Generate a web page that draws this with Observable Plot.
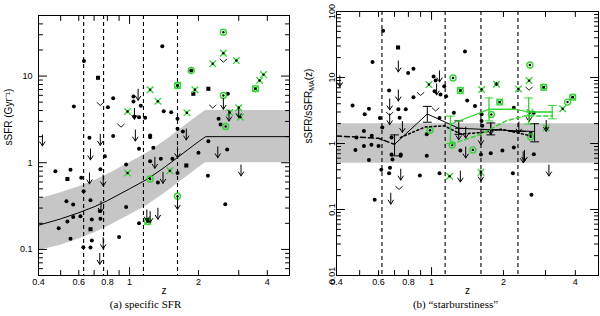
<!DOCTYPE html>
<html><head><meta charset="utf-8">
<script src="https://cdn.jsdelivr.net/npm/d3@7"></script>
<script src="https://cdn.jsdelivr.net/npm/@observablehq/plot@0.6"></script>
<style>
body{margin:0;background:#fff;}
#wrap{display:flex;width:600px;height:316px;overflow:hidden;}
</style></head><body><div id="wrap"></div>
<script>
// ---------- shared axis data ----------
const zLabels = [0.4, 0.6, 0.8, 1, 2, 4];
const zMinor = [0.5, 0.6, 0.7, 0.8, 0.9, 2, 3, 4];
const zMajor = [1];

// ---------- panel (a): specific SFR ----------
const leftYMajor = [0.1, 1, 10];
const leftYMinor = [0.06, 0.07, 0.08, 0.09, 0.2, 0.3, 0.4, 0.5, 0.6, 0.7, 0.8, 0.9, 2, 3, 4, 5, 6, 7, 8, 9, 20, 30, 40];
const leftDividers = [0.63, 0.77, 1.15, 1.62];
const leftTrendZ = [0.4, 0.5, 0.6, 0.7, 0.8, 1.0, 1.2, 1.4, 1.6, 1.8, 2.0, 2.15, 5];
const leftTrendY = [0.19, 0.225, 0.265, 0.31, 0.365, 0.50, 0.65, 0.86, 1.12, 1.42, 1.75, 2.0, 2.0];
const leftBandLo = [0.097, 0.112, 0.132, 0.155, 0.182, 0.25, 0.325, 0.43, 0.56, 0.71, 0.875, 1.0, 1.0];
const leftBandHi = [0.38, 0.45, 0.53, 0.62, 0.73, 1.0, 1.3, 1.72, 2.24, 2.84, 3.5, 4.0, 4.0];
const leftDots = [[0.632,14.9],[1.39,22.1],[0.571,4.46],[0.848,5.56],[0.804,4.38],[1.04,5.82],[1.04,5.09],[1.12,4.54],[1.05,3.42],[1.10,3.36],[1.17,3.30],[0.668,1.94],[0.848,2.03],[1.10,1.45],[1.23,2.06],[1.23,1.97],[1.27,1.49],[1.41,3.94],[1.52,3.83],[1.62,3.22],[1.62,2.47],[1.71,2.30],[2.45,3.22],[2.50,2.77],[2.69,6.25],[2.21,1.77],[2.0,1.30],[2.67,1.42],[1.37,1.11],[1.54,1.11],[0.78,1.19],[0.474,0.80],[0.552,0.83],[0.615,0.67],[0.63,0.47],[0.53,0.36],[0.567,0.33],[0.675,0.37],[0.61,0.242],[0.567,0.236],[0.535,0.21],[0.49,0.176],[0.684,0.222],[0.746,0.226],[0.741,0.277],[0.552,0.133],[0.684,0.127],[0.628,0.106],[0.675,0.105],[0.90,0.139],[0.966,0.308],[1.10,0.20],[0.966,0.955],[1.23,1.04],[1.33,0.59],[1.62,0.76],[2.20,0.71],[2.62,0.333],[0.746,0.84],[1.86,11.6]];
const leftSquares = [[0.728,9.56],[1.90,6.25],[2.21,7.14],[0.535,0.65],[0.675,0.171],[1.77,0.93]];
const leftGreenX = [[2.57,18.4],[2.31,13.9],[2.93,15.1],[1.62,7.8],[1.23,6.95],[1.93,6.95],[1.33,5.13],[0.98,3.9],[1.78,3.77],[2.74,3.8],[3.0,4.31],[3.05,3.36],[3.85,10.4],[3.7,8.9],[3.55,7.14],[0.98,0.76],[1.50,0.81],[1.20,0.21]];
const leftGreenO = [[2.57,32.1],[1.86,11.6],[1.62,7.8],[2.57,5.97],[2.63,2.62],[3.55,7.14],[1.23,0.65],[1.20,0.21],[1.62,0.41]];
const leftArrows = [[0.416,1.81],[0.745,1.84],[1.09,6.09],[1.06,2.06],[0.675,1.25],[1.77,2.12],[1.62,1.32],[2.57,4.79],[2.72,3.51],[3.0,3.83],[2.43,1.32],[1.05,3.67],[0.668,0.66],[0.767,0.625],[0.75,0.31],[0.767,0.118],[0.741,0.078],[1.19,0.247],[1.23,0.236],[1.33,0.258],[1.29,1.0],[1.40,0.67],[1.62,0.336],[3.07,0.815]];
const leftVees = [[0.745,4.79],[0.918,2.69],[2.31,4.46],[2.57,15.1]];

// ---------- panel (b): starburstiness ----------
const rightYMajor = [0.01, 0.1, 1, 10, 100];
const rightYMinor = [0.02,0.03,0.04,0.05,0.06,0.07,0.08,0.09,0.2,0.3,0.4,0.5,0.6,0.7,0.8,0.9,2,3,4,5,6,7,8,9,20,30,40,50,60,70,80,90];
const rightDividers = [0.62, 1.14, 1.61, 2.30];
const rightBandZ = [0.4, 5];
const rightBandLo = [0.5, 0.5];
const rightBandHi = [2.0, 2.0];
const rightDots = [[0.627,51.3],[0.566,17.1],[0.798,11.7],[0.84,13.6],[1.38,24.8],[0.467,3.78],[0.547,3.36],[0.525,2.77],[0.664,6.35],[0.726,3.29],[0.78,3.29],[0.84,5.04],[1.02,10.4],[1.04,8.98],[1.03,6.2],[1.09,5.53],[1.13,7.37],[1.15,5.21],[1.24,2.92],[1.41,4.49],[1.52,3.69],[1.62,2.77],[0.622,1.74],[0.521,1.55],[0.562,1.31],[0.485,1.23],[0.521,0.92],[0.56,0.96],[0.60,0.92],[0.68,1.23],[0.955,1.38],[1.62,2.19],[1.63,1.85],[1.87,7.98],[2.21,3.48],[2.21,0.87],[2.68,2.92],[2.6,1.41],[1.98,0.78],[1.77,0.71],[1.61,0.68],[1.32,0.78],[0.955,0.65],[0.68,0.68],[0.743,0.68],[2.68,0.69],[0.686,0.57],[0.547,0.56],[0.616,0.40],[0.67,0.43],[0.664,0.354],[0.893,0.327],[1.08,0.354],[2.19,0.354],[0.578,0.141],[2.62,0.168],[0.48,0.80],[0.742,0.65],[0.735,2.46],[1.08,2.43],[0.608,2.43]];
const rightSquares = [[0.724,28.5]];
const rightGreenX = [[2.56,8.98],[2.95,7.12],[2.31,6.71],[1.87,7.9],[1.32,6.35],[1.62,6.58],[0.975,7.82],[1.93,4.24],[2.58,2.94],[3.02,1.72],[3.54,3.36],[3.9,5.04],[1.61,0.366],[1.19,0.319]];
const rightGreenO = [[2.58,15.5],[2.95,7.12],[1.23,9.83],[1.32,6.35],[1.93,4.24],[1.78,2.75],[0.986,1.59],[1.22,0.95],[1.49,0.80],[2.6,1.26],[3.71,4.24],[3.9,5.04]];
const rightArrows = [[0.413,8.77],[0.726,14.7],[0.726,5.34],[0.668,3.91],[0.668,2.33],[0.755,1.78],[1.08,10.4],[1.05,6.58],[1.30,1.38],[1.39,1.46],[1.77,1.65],[2.32,1.74],[2.56,2.61],[3.02,1.85],[2.45,0.65],[1.39,0.73],[1.61,1.16],[0.743,0.338],[0.675,0.146],[1.32,0.316],[1.61,0.327],[2.42,0.62],[3.1,0.39]];
const rightVees = [[0.90,5.65],[1.04,3.29],[0.668,2.83],[2.56,6.81],[0.731,0.213]];
// black binned relation (solid) with errors
const blackBinZ = [0.70, 0.96, 1.30, 1.77, 2.7];
const blackBinY = [0.97, 2.8, 1.7, 1.62, 1.52];
const blackBinLo = [0.65, 2.1, 1.38, 1.35, 1.06];
const blackBinHi = [1.35, 3.65, 2.2, 2.05, 1.99];
const blackBinZLo = [0.70, 0.96, 1.26, 1.61, 2.12];
const blackBinZHi = [0.70, 0.96, 1.36, 1.98, 2.5];
const blackDashedZ = [0.4, 0.6, 0.70];
const blackDashedY = [1.3, 1.2, 0.97];
const blackDottedZ = [0.74, 0.94, 1.13, 1.32, 1.61, 1.95, 2.6];
const blackDottedY = [1.23, 1.78, 1.85, 1.40, 1.46, 1.65, 1.31];
// green binned relation
const greenBinZ = [1.20, 1.74, 2.55, 3.2];
const greenBinY = [1.96, 3.29, 3.0, 3.0];
const greenBinLo = [1.0, 2.2, 1.96, 2.37];
const greenBinHi = [2.6, 4.9, 4.9, 3.77];
const greenBinZLo = [1.20, 1.74, 2.5, 3.2];
const greenBinZHi = [1.20, 2.25, 3.2, 3.2];
const greenLineZ = [1.20, 1.74, 2.25, 2.55, 3.2];
const greenLineY = [1.96, 3.29, 3.29, 3.0, 3.0];
const greenDashedZ = [1.21, 1.61, 2.05, 2.45, 3.2];
const greenDashedY = [0.98, 1.38, 2.2, 2.6, 2.6];

// ---------- helpers ----------
const GREEN = "#33d433";
const lineShape = {draw(c, l) { c.moveTo(0, 0); c.lineTo(0, -l); }};
const arrowShape = {draw(c, l) { c.moveTo(0, 0); c.lineTo(0, -l); c.moveTo(-2.6, -l + 4); c.lineTo(0, -l); c.lineTo(2.6, -l + 4); }};
const veeSymbol = {draw(c, size) { const r = Math.sqrt(size / Math.PI); c.moveTo(-r, -r * 0.45); c.lineTo(0, r * 0.45); c.lineTo(r, -r * 0.45); }};
const fmt = d => String(d);

function frameTicks(xMaj, xMin, yMaj, yMin) {
  const m = [];
  const opt = {shape: lineShape, stroke: "black", strokeWidth: 1, anchor: "start"};
  for (const [vals, len] of [[xMaj, 8], [xMin, 5]]) {
    m.push(Plot.vector(vals, {...opt, x: d => d, frameAnchor: "bottom", rotate: 0, length: len}));
    m.push(Plot.vector(vals, {...opt, x: d => d, frameAnchor: "top", rotate: 180, length: len}));
  }
  for (const [vals, len] of [[yMaj, 8], [yMin, 4]]) {
    m.push(Plot.vector(vals, {...opt, y: d => d, frameAnchor: "left", rotate: 90, length: len}));
    m.push(Plot.vector(vals, {...opt, y: d => d, frameAnchor: "right", rotate: -90, length: len}));
  }
  return m;
}

function pointMarks(dots, squares, gx, go, arrows, vees) {
  return [
    Plot.dot(dots, {x: d => d[0], y: d => d[1], r: 2, fill: "black"}),
    Plot.dot(squares, {x: d => d[0], y: d => d[1], r: 2.3, symbol: "square", fill: "black"}),
    Plot.dot(gx, {x: d => d[0], y: d => d[1], r: 3.1, symbol: "times", stroke: GREEN, strokeWidth: 1.3}),
    Plot.dot(go, {x: d => d[0], y: d => d[1], r: 3, symbol: "circle", fill: "none", stroke: GREEN, strokeWidth: 1.4}),
    Plot.dot([...gx, ...go], {x: d => d[0], y: d => d[1], r: 1.2, fill: "black"}),
    Plot.vector(arrows, {x: d => d[0], y: d => d[1], length: 11, rotate: 180, anchor: "middle", shape: arrowShape, stroke: "black", strokeWidth: 1}),
    Plot.dot(vees, {x: d => d[0], y: d => d[1], r: 3.6, symbol: veeSymbol, fill: "none", stroke: "black", strokeWidth: 0.9})
  ];
}

const baseStyle = {fontFamily: "Liberation Sans, Arial, sans-serif", fontSize: "9px", background: "white", overflow: "visible"};
const serif = "Liberation Serif, Times New Roman, serif";

// ---------- panel (a) ----------
const trend = d3.zip(leftTrendZ, leftTrendY, leftBandLo, leftBandHi).map(([z, y, lo, hi]) => ({z, y, lo, hi}));
const plotA = Plot.plot({
  width: 300, height: 316, marginLeft: 38, marginRight: 11, marginTop: 15, marginBottom: 41,
  x: {type: "log", domain: [0.4, 5], axis: null},
  y: {type: "log", domain: [0.05, 50], axis: null},
  style: baseStyle,
  marks: [
    Plot.areaY(trend, {x: "z", y1: "lo", y2: "hi", fill: "#c6c6c6", clip: true}),
    Plot.line(trend, {x: "z", y: "y", stroke: "black", strokeWidth: 1, clip: true}),
    Plot.ruleX(leftDividers, {stroke: "black", strokeWidth: 1.1, strokeDasharray: "4,3"}),
    ...pointMarks(leftDots, leftSquares, leftGreenX, leftGreenO, leftArrows, leftVees),
    Plot.frame({stroke: "black", strokeWidth: 1}),
    ...frameTicks(zMajor, zMinor, leftYMajor, leftYMinor),
    Plot.text(zLabels, {x: d => d, text: fmt, frameAnchor: "bottom", dy: 9, fontSize: 9}),
    Plot.text(leftYMajor, {y: d => d, text: fmt, frameAnchor: "left", dx: -6, textAnchor: "end", fontSize: 9}),
    Plot.text(["z"], {text: d => d, frameAnchor: "bottom", dy: 18, fontSize: 10}),
    Plot.text(["sSFR (Gyr⁻¹)"], {text: d => d, frameAnchor: "left", dx: -30, rotate: -90, fontSize: 10}),
    Plot.text(["(a) specific SFR"], {text: d => d, frameAnchor: "bottom-left", dx: 107, dy: 32, textAnchor: "middle", fontFamily: serif, fontSize: 11})
  ]
});

// ---------- panel (b) ----------
const band = d3.zip(rightBandZ, rightBandLo, rightBandHi).map(([z, lo, hi]) => ({z, lo, hi}));
const bBins = d3.zip(blackBinZ, blackBinY, blackBinLo, blackBinHi, blackBinZLo, blackBinZHi).map(([z, y, lo, hi, zlo, zhi]) => ({z, y, lo, hi, zlo, zhi}));
const gBins = d3.zip(greenBinZ, greenBinY, greenBinLo, greenBinHi, greenBinZLo, greenBinZHi).map(([z, y, lo, hi, zlo, zhi]) => ({z, y, lo, hi, zlo, zhi}));
const capOpt = {shape: lineShape, anchor: "middle", length: 8, rotate: 90, strokeWidth: 1};
const plotB = Plot.plot({
  width: 300, height: 316, marginLeft: 36, marginRight: 2, marginTop: 11, marginBottom: 41,
  x: {type: "log", domain: [0.4, 5], axis: null},
  y: {type: "log", domain: [0.01, 100], axis: null},
  style: baseStyle,
  marks: [
    Plot.areaY(band, {x: "z", y1: "lo", y2: "hi", fill: "#c6c6c6"}),
    Plot.ruleX(rightDividers, {stroke: "black", strokeWidth: 1.1, strokeDasharray: "4,3"}),
    ...pointMarks(rightDots, rightSquares, rightGreenX, rightGreenO, rightArrows, rightVees),
    // black relations
    Plot.line(d3.zip(blackDashedZ, blackDashedY), {x: d => d[0], y: d => d[1], stroke: "black", strokeDasharray: "5,3", clip: true}),
    Plot.line(d3.zip(blackDottedZ, blackDottedY), {x: d => d[0], y: d => d[1], stroke: "black", strokeDasharray: "2,2.5"}),
    Plot.line(bBins, {x: "z", y: "y", stroke: "black", strokeWidth: 1}),
    Plot.ruleX(bBins, {x: "z", y1: "lo", y2: "hi", stroke: "black"}),
    Plot.vector(bBins, {...capOpt, x: "z", y: "lo", stroke: "black"}),
    Plot.vector(bBins, {...capOpt, x: "z", y: "hi", stroke: "black"}),
    Plot.ruleY(bBins, {y: "y", x1: "zlo", x2: "zhi", stroke: "black"}),
    // green relations
    Plot.line(d3.zip(greenDashedZ, greenDashedY), {x: d => d[0], y: d => d[1], stroke: GREEN, strokeDasharray: "4,3"}),
    Plot.line(d3.zip(greenLineZ, greenLineY), {x: d => d[0], y: d => d[1], stroke: GREEN, strokeWidth: 1.2}),
    Plot.ruleX(gBins, {x: "z", y1: "lo", y2: "hi", stroke: GREEN, strokeWidth: 1.3}),
    Plot.vector(gBins, {...capOpt, x: "z", y: "lo", stroke: GREEN}),
    Plot.vector(gBins, {...capOpt, x: "z", y: "hi", stroke: GREEN}),
    Plot.ruleY(gBins, {y: "y", x1: "zlo", x2: "zhi", stroke: GREEN, strokeWidth: 1.3}),
    Plot.frame({stroke: "black", strokeWidth: 1}),
    ...frameTicks(zMajor, zMinor, rightYMajor, rightYMinor),
    Plot.text(zLabels, {x: d => d, text: fmt, frameAnchor: "bottom", dy: 9, fontSize: 9}),
    Plot.text(rightYMajor, {y: d => d, text: fmt, frameAnchor: "left", dx: -2, rotate: -90, lineAnchor: "bottom", textAnchor: "middle", fontSize: 9}),
    Plot.text(["z"], {text: d => d, frameAnchor: "bottom", dy: 18, fontSize: 10}),
    Plot.text(["sSFR/sSFRMA(z)"], {text: d => d, frameAnchor: "left", dx: -28, rotate: -90, fontSize: 10}),
    Plot.text(["(b) “starburstiness”"], {text: d => d, frameAnchor: "bottom-left", dx: 119, dy: 32, textAnchor: "middle", fontFamily: serif, fontSize: 11})
  ]
});

// subscript for the y label of panel (b)
d3.select(plotB).selectAll("text").filter(function() { return this.textContent === "sSFR/sSFRMA(z)"; })
  .each(function() {
    this.textContent = "";
    const ns = "http://www.w3.org/2000/svg";
    const parts = [["sSFR/sSFR", null, null], ["MA", "2.5", "7"], ["(z)", "-2.5", null]];
    for (const [t, dy, fs] of parts) {
      const ts = document.createElementNS(ns, "tspan");
      ts.textContent = t;
      if (dy) ts.setAttribute("dy", dy);
      if (fs) ts.setAttribute("font-size", fs);
      this.appendChild(ts);
    }
  });

const wrap = document.getElementById("wrap");
wrap.appendChild(plotA);
wrap.appendChild(plotB);
</script>
</body></html>
